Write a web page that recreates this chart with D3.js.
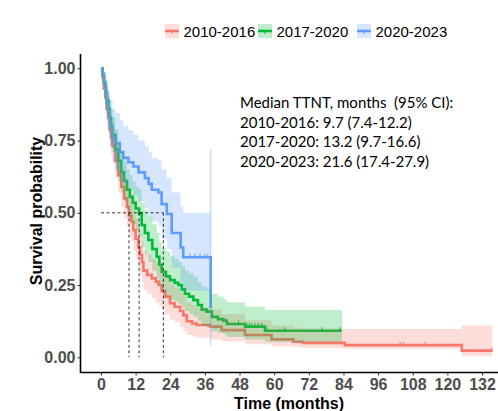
<!DOCTYPE html>
<html>
<head>
<meta charset="utf-8">
<script src="https://cdn.jsdelivr.net/npm/d3@7"></script>
<style>
  body { margin: 0; background: #fff; }
</style>
</head>
<body>
<script>
function setattrs(shape, dict) {
    for (let [prop, val] of Object.entries(dict)) {
        shape.attr(prop, val)
    }
}

// group labels and colours
const groups = ["2010-2016", "2017-2020", "2020-2023"]
const colors = ["#F8766D", "#00BA38", "#619CFF"]

// 2010-2016: time, survival, lower CI, upper CI
const redTime = [0, 0.5, 1, 1.5, 2, 2.5, 3, 3.5, 4, 5, 6, 7, 8, 9, 9.7, 10.5, 11.2, 12, 13, 13.5, 14.2, 14.7, 16, 17.6, 19, 19.9, 21, 22.2, 23.9, 25.5, 27.4, 28.5, 29.7, 31.5, 33.2, 37.8, 41.8, 49.9, 59.1, 66.6, 70, 84.5, 125, 135.5]
const redSurv = [1, 0.97, 0.93, 0.90, 0.86, 0.83, 0.79, 0.76, 0.73, 0.68, 0.63, 0.59, 0.55, 0.52, 0.49, 0.47, 0.44, 0.41, 0.38, 0.355, 0.33, 0.30, 0.285, 0.273, 0.262, 0.25, 0.23, 0.21, 0.187, 0.175, 0.16, 0.145, 0.125, 0.117, 0.112, 0.106, 0.094, 0.077, 0.062, 0.054, 0.05, 0.042, 0.023, 0.023]
const redLow = [1, 0.94, 0.89, 0.85, 0.81, 0.77, 0.73, 0.70, 0.67, 0.62, 0.57, 0.52, 0.48, 0.45, 0.42, 0.40, 0.37, 0.34, 0.31, 0.285, 0.26, 0.235, 0.22, 0.205, 0.19, 0.18, 0.165, 0.148, 0.13, 0.12, 0.105, 0.09, 0.078, 0.072, 0.068, 0.062, 0.055, 0.045, 0.038, 0.035, 0.032, 0.03, 0.004, 0.004]
const redUp = [1, 0.99, 0.97, 0.94, 0.91, 0.88, 0.85, 0.82, 0.79, 0.74, 0.70, 0.66, 0.62, 0.59, 0.56, 0.54, 0.51, 0.48, 0.45, 0.43, 0.40, 0.37, 0.355, 0.34, 0.33, 0.32, 0.30, 0.28, 0.255, 0.24, 0.225, 0.21, 0.19, 0.18, 0.172, 0.165, 0.15, 0.128, 0.11, 0.102, 0.10, 0.098, 0.11, 0.11]
const redCens = [103.6, 104.7, 112.3, 135.5]

// 2017-2020
const greenTime = [0, 0.5, 1, 1.5, 2, 2.5, 3, 3.5, 4, 5, 6, 7, 8, 9, 10, 11, 12, 13.2, 14.1, 15.2, 16.4, 17.8, 19.3, 20.2, 21, 22.5, 23.9, 25.5, 26.8, 28, 29.1, 30.5, 32, 33.6, 34.9, 36.6, 38.4, 40.5, 42.4, 43.6, 49.9, 56.8, 83.5]
const greenSurv = [1, 0.98, 0.95, 0.92, 0.89, 0.86, 0.83, 0.80, 0.77, 0.72, 0.68, 0.64, 0.61, 0.58, 0.555, 0.535, 0.515, 0.498, 0.458, 0.43, 0.406, 0.375, 0.348, 0.32, 0.296, 0.28, 0.267, 0.258, 0.25, 0.235, 0.22, 0.21, 0.198, 0.181, 0.165, 0.158, 0.14, 0.132, 0.127, 0.115, 0.106, 0.092, 0.092]
const greenLow = [1, 0.95, 0.91, 0.87, 0.84, 0.80, 0.77, 0.74, 0.71, 0.65, 0.61, 0.57, 0.54, 0.51, 0.48, 0.46, 0.44, 0.42, 0.38, 0.355, 0.33, 0.30, 0.275, 0.25, 0.23, 0.215, 0.20, 0.193, 0.185, 0.172, 0.16, 0.15, 0.14, 0.125, 0.11, 0.104, 0.09, 0.084, 0.08, 0.07, 0.062, 0.054, 0.054]
const greenUp = [1, 1, 0.98, 0.96, 0.94, 0.91, 0.89, 0.86, 0.83, 0.79, 0.75, 0.71, 0.68, 0.65, 0.63, 0.61, 0.59, 0.58, 0.535, 0.51, 0.49, 0.46, 0.43, 0.40, 0.38, 0.365, 0.35, 0.34, 0.33, 0.315, 0.30, 0.29, 0.28, 0.26, 0.245, 0.236, 0.22, 0.21, 0.20, 0.19, 0.175, 0.164, 0.164]
const greenCens = [47.6, 50.5, 51.4, 52.3, 53.4, 54.5, 55.7, 57.4, 63.7, 76.5, 82.8]

// 2020-2023
const blueTime = [0, 0.5, 1, 1.5, 2, 2.5, 3.1, 4, 5, 6.5, 7.7, 9.5, 11.2, 13, 15.2, 16.5, 17.6, 19.9, 21, 22.8, 24.5, 27.6, 28.5, 38]
const blueSurv = [1, 0.98, 0.95, 0.92, 0.88, 0.85, 0.80, 0.76, 0.74, 0.71, 0.69, 0.675, 0.66, 0.64, 0.62, 0.60, 0.58, 0.57, 0.53, 0.496, 0.43, 0.38, 0.346, 0.17]
const blueLow = [1, 0.94, 0.90, 0.86, 0.82, 0.78, 0.73, 0.68, 0.65, 0.62, 0.595, 0.58, 0.56, 0.54, 0.515, 0.49, 0.47, 0.455, 0.41, 0.375, 0.31, 0.26, 0.23, 0.04]
const blueUp = [1, 1, 0.99, 0.97, 0.95, 0.92, 0.89, 0.86, 0.845, 0.82, 0.80, 0.785, 0.77, 0.75, 0.73, 0.71, 0.69, 0.68, 0.65, 0.62, 0.57, 0.52, 0.50, 0.72]
const blueCens = [30.8, 32.6, 34.3, 36, 37]

const medians = [9.7, 13.2, 21.6]

const xTicks = [0, 12, 24, 36, 48, 60, 72, 84, 96, 108, 120, 132]
const yTicks = [0, 0.25, 0.5, 0.75, 1]

const noteLines = [
    "Median TTNT, months  (95% CI):",
    "2010-2016: 9.7 (7.4-12.2)",
    "2017-2020: 13.2 (9.7-16.6)",
    "2020-2023: 21.6 (17.4-27.9)"
]

const series = [
    {time: redTime, surv: redSurv, low: redLow, up: redUp, cens: redCens},
    {time: greenTime, surv: greenSurv, low: greenLow, up: greenUp, cens: greenCens},
    {time: blueTime, surv: blueSurv, low: blueLow, up: blueUp, cens: blueCens}
]

const W = 498, H = 411
const svg = d3.select("body").append("svg")
setattrs(svg, {"width": W, "height": H})

const x = d3.scaleLinear().domain([0, 132]).range([101, 482])
const y = d3.scaleLinear().domain([0, 1]).range([357.3, 68.3])

// step lookup for censor marks
function survAt(s, t) {
    let v = s.surv[0]
    for (let i = 0; i < s.time.length; i++) {
        if (s.time[i] <= t) v = s.surv[i]
    }
    return v
}

const plot = svg.append("g")

const line = d3.line().curve(d3.curveStepAfter)
    .x(d => x(d[0])).y(d => y(d[1]))
const area = d3.area().curve(d3.curveStepAfter)
    .x(d => x(d[0])).y0(d => y(d[1])).y1(d => y(d[2]))

// lines first, ribbons on top (as survminer draws them)
series.forEach((s, i) => {
    const pts = s.time.map((t, j) => [t, s.surv[j]])
    plot.append("path")
        .attr("d", line(pts))
        .attr("style", `fill:none; stroke:${colors[i]}; stroke-width:2.6;`)
})

series.forEach((s, i) => {
    const pts = s.time.map((t, j) => [t, s.low[j], s.up[j]])
    plot.append("path")
        .attr("d", area(pts))
        .attr("fill", colors[i])
        .attr("fill-opacity", 0.25)
})

// zero-width last band of 2020-2023 shows as a hairline
{
    const s = series[2], n = s.time.length - 1
    setattrs(plot.append("rect"), {
        "x": x(s.time[n]) - 0.8, "width": 1.6,
        "y": y(s.up[n]), "height": y(s.low[n]) - y(s.up[n]),
        "fill": colors[2], "fill-opacity": 0.3
    })
}

// censor marks
series.forEach((s, i) => {
    plot.selectAll(null).data(s.cens).enter().append("line")
        .attr("x1", d => x(d)).attr("x2", d => x(d))
        .attr("y1", d => y(survAt(s, d)) - 3.5)
        .attr("y2", d => y(survAt(s, d)) + 1)
        .attr("stroke", colors[i]).attr("stroke-width", 1)
})

// median lines
const dash = "stroke:black; stroke-width:0.8; stroke-dasharray:3,2.5; fill:none;"
svg.append("path")
    .attr("d", `M ${x(0)} ${y(0.5)} H ${x(d3.max(medians))}`)
    .attr("style", dash)
for (let m of medians) {
    svg.append("path")
        .attr("d", `M ${x(m)} ${y(0.5)} V ${y(0)}`)
        .attr("style", dash)
}

// axes
const axisY = svg.append("g").attr("transform", "translate(80.5,0)")
    .call(d3.axisLeft(y).tickValues(yTicks).tickFormat(d3.format(".2f")).tickSize(3).tickPadding(2))
const axisX = svg.append("g").attr("transform", "translate(0,372.5)")
    .call(d3.axisBottom(x).tickValues(xTicks).tickSize(3).tickPadding(3))
for (let ax of [axisY, axisX]) {
    ax.select(".domain").remove()
    ax.selectAll(".tick line").attr("stroke", "#333").attr("stroke-width", 1)
    ax.selectAll(".tick text")
        .attr("fill", "#4D4D4D")
        .attr("font-size", 16)
        .attr("font-weight", "bold")
        .attr("font-family", "Liberation Sans, Arial, sans-serif")
}
svg.append("path").attr("d", "M 80.5 54 V 372.5 H 498")
    .attr("style", "fill:none; stroke:black; stroke-width:1.6;")

// axis titles
setattrs(svg.append("text").text("Time (months)"), {
    "x": 289, "y": 409, "text-anchor": "middle",
    "font-size": 16, "font-weight": "bold",
    "font-family": "Liberation Sans, Arial, sans-serif"
})
setattrs(svg.append("text").text("Survival probability"), {
    "transform": "translate(42,211) rotate(-90)", "text-anchor": "middle",
    "font-size": 16, "font-weight": "bold",
    "font-family": "Liberation Sans, Arial, sans-serif"
})

// note
noteLines.forEach((t, i) => {
    setattrs(svg.append("text").text(t), {
        "x": 240, "y": 108 + i * 19.6,
        "font-size": 15,
        "font-family": "Lato, sans-serif",
        "style": "white-space: pre;"
    })
})

// legend
const legendX = [165, 258, 357]
groups.forEach((g, i) => {
    const lg = svg.append("g").attr("transform", `translate(${legendX[i]},24)`)
    setattrs(lg.append("rect"), {"x": 0, "y": 0, "width": 14, "height": 14,
        "fill": colors[i], "fill-opacity": 0.25})
    setattrs(lg.append("line"), {"x1": 0, "x2": 14, "y1": 7, "y2": 7,
        "stroke": colors[i], "stroke-width": 2.6})
    setattrs(lg.append("line"), {"x1": 7, "x2": 7, "y1": 7, "y2": 10,
        "stroke": colors[i], "stroke-width": 1})
    setattrs(lg.append("text").text(g), {
        "x": 18.5, "y": 12.5, "font-size": 15,
        "font-family": "Liberation Sans, Arial, sans-serif"
    })
})
</script>
</body>
</html>
